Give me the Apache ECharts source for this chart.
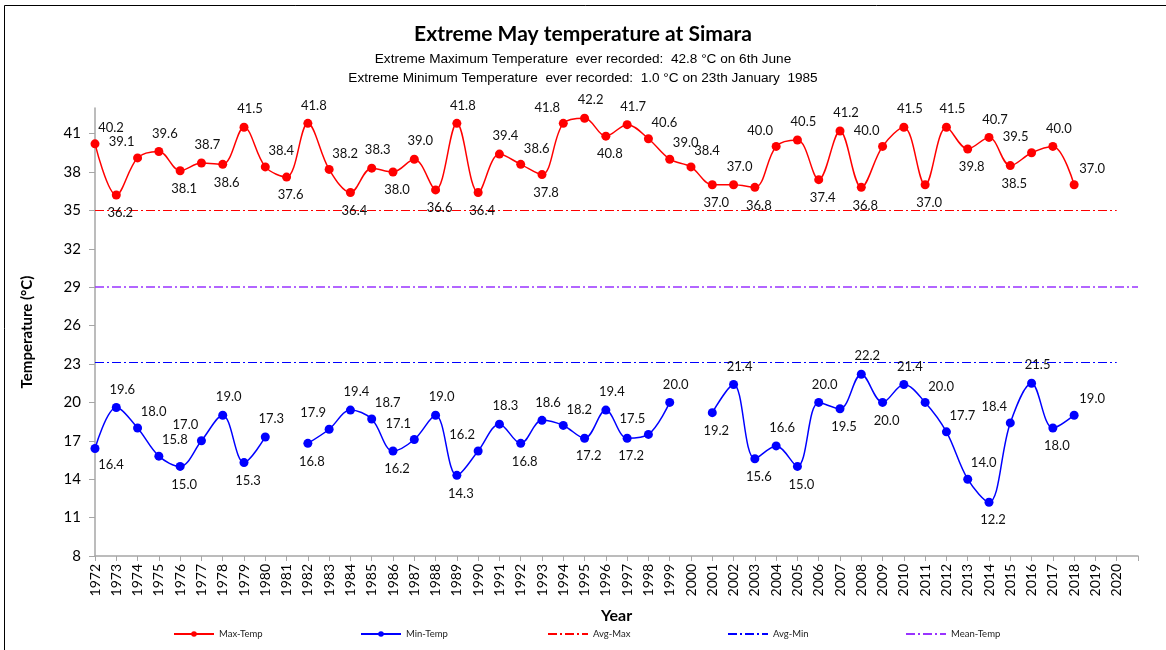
<!DOCTYPE html>
<html>
<head>
<meta charset="utf-8">
<title>Extreme May temperature at Simara</title>
<script src="https://cdn.jsdelivr.net/npm/echarts@6/dist/echarts.min.js"></script>
<style>
html, body { margin: 0; padding: 0; background: #fff; }
#chart { width: 1166px; height: 650px; }
</style>
</head>
<body>
<div id="chart"></div>
<script>
// x axis runs one step past 2020 (unlabelled), like the original sheet
const years = ['1972', '1973', '1974', '1975', '1976', '1977', '1978', '1979', '1980', '1981',
  '1982', '1983', '1984', '1985', '1986', '1987', '1988', '1989', '1990', '1991',
  '1992', '1993', '1994', '1995', '1996', '1997', '1998', '1999', '2000', '2001',
  '2002', '2003', '2004', '2005', '2006', '2007', '2008', '2009', '2010', '2011',
  '2012', '2013', '2014', '2015', '2016', '2017', '2018', '2019', '2020', '2021']

// 1972 .. 2018
const maxTemp = [40.2, 36.2, 39.1, 39.6, 38.1, 38.7, 38.6, 41.5, 38.4, 37.6,
  41.8, 38.2, 36.4, 38.3, 38.0, 39.0, 36.6, 41.8, 36.4, 39.4,
  38.6, 37.8, 41.8, 42.2, 40.8, 41.7, 40.6, 39.0, 38.4, 37.0,
  37.0, 36.8, 40.0, 40.5, 37.4, 41.2, 36.8, 40.0, 41.5, 37.0,
  41.5, 39.8, 40.7, 38.5, 39.5, 40.0, 37.0]

const minTemp = [16.4, 19.6, 18.0, 15.8, 15.0, 17.0, 19.0, 15.3, 17.3, null,
  16.8, 17.9, 19.4, 18.7, 16.2, 17.1, 19.0, 14.3, 16.2, 18.3,
  16.8, 18.6, 18.2, 17.2, 19.4, 17.2, 17.5, 20.0, null, 19.2,
  21.4, 15.6, 16.6, 15.0, 20.0, 19.5, 22.2, 20.0, 21.4, 20.0,
  17.7, 14.0, 12.2, 18.4, 21.5, 18.0, 19.0]

const avgMax = 35.0
const avgMin = 23.1
const meanTemp = 29.0

const fontFamily = 'Lato, "Open Sans", sans-serif'

// put a label above peaks, below troughs, beside the slope otherwise
function withLabels(values) {
  return values.map((v, i) => {
    if (v === null) return null
    const p = values[i - 1] == null ? v : values[i - 1]
    const n = values[i + 1] == null ? v : values[i + 1]
    let label
    if (i === 0 || i === values.length - 1) {
      label = v >= (i === 0 ? n : p)
        ? { position: 'top', offset: [16, 0] }
        : { position: 'bottom', offset: [16, 0] }
      if (i === values.length - 1) label = { position: 'top', offset: [18, 0] }
    } else if (v >= p && v >= n) {
      label = { position: 'top', offset: [6, -2] }
    } else if (v <= p && v <= n) {
      label = { position: 'bottom', offset: [4, 2] }
    } else if (p < v) {
      label = { position: 'top', offset: [-16, 0] }
    } else {
      label = { position: 'top', offset: [16, 0] }
    }
    return { value: v, label: label }
  })
}

function refLine(name, color, value, endYear, width) {
  return {
    name: name,
    type: 'line',
    data: [],
    symbol: 'none',
    itemStyle: { color: color },
    lineStyle: { color: color, width: width, type: [9, 3, 2, 3] },
    markLine: {
      silent: true,
      symbol: 'none',
      label: { show: false },
      lineStyle: { color: color, width: width, type: [9, 3, 2, 3] },
      data: [[{ coord: [years[0], value] }, { coord: [endYear, value] }]]
    }
  }
}

const chart = echarts.init(document.getElementById('chart'))

const legendNames = ['Max-Temp', 'Min-Temp', 'Avg-Max', 'Avg-Min', 'Mean-Temp']
const legendLeft = [168, 355, 542, 722, 900]

chart.setOption({
  animation: false,
  title: [
    {
      text: 'Extreme May temperature at Simara',
      left: 'center',
      top: 19,
      textStyle: { fontFamily: fontFamily, fontSize: 21, fontWeight: 'bold', color: '#000' }
    },
    {
      text: 'Extreme Maximum Temperature  ever recorded:  42.8 °C on 6th June',
      left: 'center',
      top: 47,
      textStyle: { fontFamily: '"Liberation Sans", Arial, sans-serif', fontSize: 13.6, fontWeight: 'normal', color: '#000' }
    },
    {
      text: 'Extreme Minimum Temperature  ever recorded:  1.0 °C on 23th January  1985',
      left: 'center',
      top: 66,
      textStyle: { fontFamily: '"Liberation Sans", Arial, sans-serif', fontSize: 13.6, fontWeight: 'normal', color: '#000' }
    }
  ],
  legend: legendNames.map((name, i) => ({
    data: [i < 2 ? { name: name } : { name: name, itemStyle: { opacity: 0 } }],
    left: legendLeft[i],
    top: 624,
    itemWidth: 40,
    itemHeight: 7,
    itemGap: 0,
    textStyle: { fontFamily: fontFamily, fontSize: 9.5, color: '#222' }
  })),
  graphic: [{
    type: 'rect',
    shape: { x: 4.5, y: 5.5, width: 1200, height: 700 },
    style: { fill: 'none', stroke: '#000', lineWidth: 1 },
    silent: true
  }],
  grid: { left: 95, right: 28, top: 108, bottom: 94, containLabel: false },
  xAxis: {
    type: 'category',
    data: years,
    boundaryGap: false,
    name: 'Year',
    nameLocation: 'middle',
    nameGap: 52,
    nameTextStyle: { fontFamily: fontFamily, fontSize: 16, fontWeight: 'bold', color: '#000' },
    axisLine: { lineStyle: { color: '#a6a6a6', width: 1.5 } },
    axisTick: { interval: 0, length: 5, lineStyle: { color: '#a6a6a6' } },
    axisLabel: {
      interval: 0,
      rotate: 90,
      margin: 8,
      fontFamily: fontFamily,
      fontSize: 14,
      color: '#000',
      formatter: v => (v === '2021' ? '' : v)
    },
    splitLine: { show: false }
  },
  yAxis: {
    type: 'value',
    min: 8,
    max: 43,
    interval: 3,
    name: 'Temperature (°C)',
    nameLocation: 'middle',
    nameGap: 60,
    nameTextStyle: { fontFamily: fontFamily, fontSize: 15, fontWeight: 'bold', color: '#000' },
    axisLine: { show: true, lineStyle: { color: '#a6a6a6', width: 1.5 } },
    axisTick: { show: true, length: 6, lineStyle: { color: '#a6a6a6' } },
    axisLabel: {
      showMaxLabel: false,
      margin: 14,
      fontFamily: fontFamily,
      fontSize: 15,
      color: '#000'
    },
    splitLine: { show: false }
  },
  series: [
    {
      name: 'Max-Temp',
      type: 'line',
      data: withLabels(maxTemp),
      smooth: 0.35,
      symbol: 'circle',
      symbolSize: 9,
      itemStyle: { color: '#ff0000' },
      lineStyle: { color: '#ff0000', width: 1.5 },
      label: {
        show: true,
        fontFamily: fontFamily,
        fontSize: 13,
        color: '#111',
        formatter: p => p.value.toFixed(1)
      },
      z: 5
    },
    {
      name: 'Min-Temp',
      type: 'line',
      data: withLabels(minTemp),
      smooth: 0.35,
      connectNulls: false,
      symbol: 'circle',
      symbolSize: 9,
      itemStyle: { color: '#0000ff' },
      lineStyle: { color: '#0000ff', width: 1.5 },
      label: {
        show: true,
        fontFamily: fontFamily,
        fontSize: 13,
        color: '#111',
        formatter: p => p.value.toFixed(1)
      },
      z: 5
    },
    refLine('Avg-Max', '#ff0000', avgMax, '2020', 1),
    refLine('Avg-Min', '#0000ff', avgMin, '2020', 1),
    refLine('Mean-Temp', '#9933ff', meanTemp, '2021', 1.5)
  ]
})
</script>
</body>
</html>
